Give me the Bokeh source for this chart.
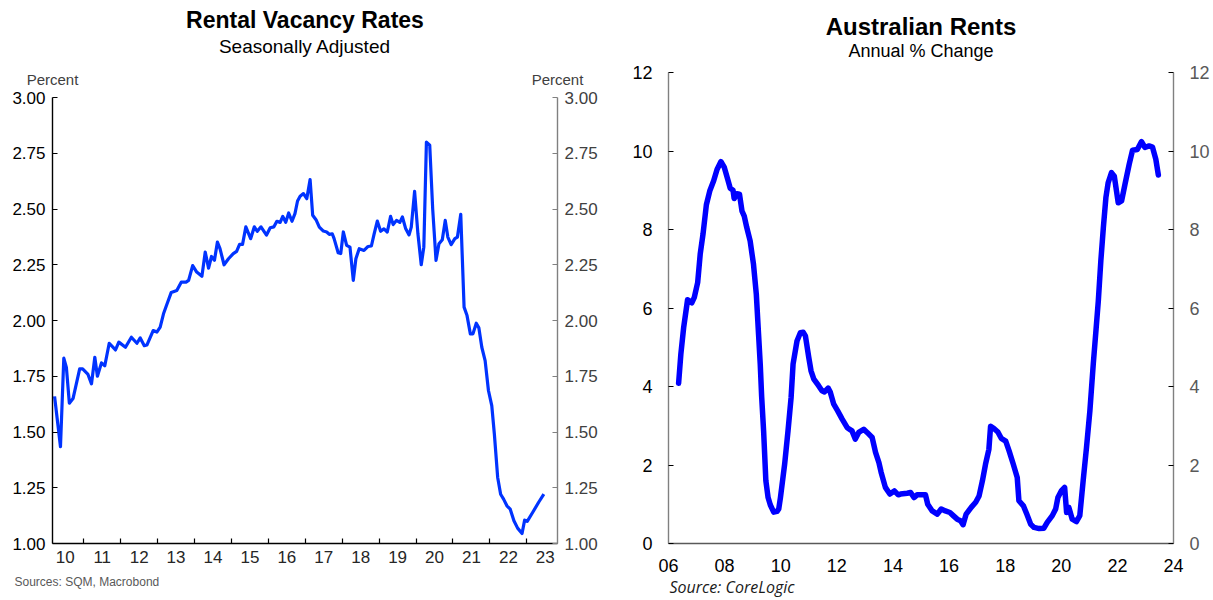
from bokeh.plotting import figure
from bokeh.models import (LinearAxis, FixedTicker, CustomJSTickFormatter, NumeralTickFormatter,
                          Range1d, ColumnDataSource, Title)
from bokeh.embed import file_html
from bokeh.resources import INLINE

FONT = "Liberation Sans"

# ---------------- Data: Rental vacancy rates (SQM, seasonally adjusted) ----------------
vac_t = [2010.21, 2010.37, 2010.46, 2010.53, 2010.61, 2010.71, 2010.89, 2010.97, 2011.11, 2011.21,
         2011.30, 2011.37, 2011.48, 2011.57, 2011.69, 2011.86, 2011.95, 2012.13, 2012.29, 2012.44,
         2012.53, 2012.64, 2012.71, 2012.88, 2012.98, 2013.07, 2013.16, 2013.25, 2013.37, 2013.52,
         2013.64, 2013.77, 2013.84, 2013.95, 2014.06, 2014.20, 2014.29, 2014.38, 2014.46, 2014.54,
         2014.62, 2014.69, 2014.80, 2014.92, 2015.05, 2015.14, 2015.22, 2015.30, 2015.39, 2015.52,
         2015.62, 2015.70, 2015.80, 2015.95, 2016.05, 2016.15, 2016.23, 2016.32, 2016.39, 2016.47,
         2016.55, 2016.64, 2016.72, 2016.79, 2016.86, 2016.95, 2017.04, 2017.13, 2017.20, 2017.29,
         2017.38, 2017.49, 2017.58, 2017.65, 2017.73, 2017.78, 2017.89, 2017.96, 2018.03, 2018.12,
         2018.21, 2018.30, 2018.37, 2018.46, 2018.59, 2018.70, 2018.79, 2018.86, 2018.95, 2019.04,
         2019.13, 2019.22, 2019.31, 2019.38, 2019.47, 2019.56, 2019.63, 2019.72, 2019.81, 2019.87,
         2019.96, 2020.05, 2020.14, 2020.21, 2020.28, 2020.37, 2020.45, 2020.54, 2020.62, 2020.71,
         2020.79, 2020.86, 2020.95, 2021.05, 2021.12, 2021.21, 2021.30, 2021.38, 2021.47, 2021.54,
         2021.63, 2021.70, 2021.78, 2021.87, 2021.96, 2022.05, 2022.12, 2022.21, 2022.29, 2022.37,
         2022.46, 2022.55, 2022.65, 2022.75, 2022.87, 2022.94, 2023.01, 2023.16, 2023.32, 2023.46]
vac_v = [1.66, 1.434, 1.831, 1.79, 1.629, 1.65, 1.783, 1.783, 1.76, 1.716,
         1.835, 1.75, 1.81, 1.797, 1.898, 1.868, 1.903, 1.88, 1.925, 1.898,
         1.922, 1.887, 1.89, 1.955, 1.948, 1.97, 2.03, 2.072, 2.126, 2.135,
         2.172, 2.172, 2.18, 2.246, 2.217, 2.198, 2.307, 2.235, 2.287, 2.27,
         2.352, 2.322, 2.25, 2.277, 2.30, 2.31, 2.341, 2.341, 2.42, 2.367,
         2.42, 2.40, 2.42, 2.383, 2.416, 2.42, 2.445, 2.44, 2.467, 2.44,
         2.482, 2.445, 2.479, 2.536, 2.557, 2.569, 2.546, 2.632, 2.472, 2.452,
         2.419, 2.401, 2.397, 2.386, 2.389, 2.367, 2.304, 2.30, 2.397, 2.337,
         2.329, 2.18, 2.277, 2.322, 2.314, 2.332, 2.334, 2.385, 2.446, 2.40,
         2.411, 2.397, 2.467, 2.43, 2.449, 2.44, 2.464, 2.411, 2.384, 2.419,
         2.579, 2.389, 2.25, 2.329, 2.80, 2.786, 2.50, 2.27, 2.344, 2.362,
         2.449, 2.374, 2.34, 2.367, 2.374, 2.476, 2.06, 2.022, 1.94, 1.94,
         1.988, 1.967, 1.88, 1.82, 1.686, 1.618, 1.491, 1.296, 1.221, 1.199,
         1.169, 1.154, 1.102, 1.069, 1.045, 1.105, 1.099, 1.14, 1.185, 1.221]
vac_y_ticks = [1.00, 1.25, 1.50, 1.75, 2.00, 2.25, 2.50, 2.75, 3.00]
vac_years = list(range(2010, 2024))
vac_year_labels = ["10", "11", "12", "13", "14", "15", "16", "17", "18", "19", "20", "21", "22", "23"]
vac_unit_labels = ["Percent", "Percent"]

# ---------------- Data: Australian rents, annual % change (CoreLogic) ----------------
rent_t = [2006.36, 2006.44, 2006.54, 2006.68, 2006.83, 2006.92, 2007.04, 2007.13, 2007.23, 2007.35,
          2007.47, 2007.61, 2007.73, 2007.87, 2007.99, 2008.11, 2008.20, 2008.30, 2008.34, 2008.44,
          2008.53, 2008.62, 2008.70, 2008.79, 2008.91, 2009.03, 2009.13, 2009.21, 2009.27, 2009.32,
          2009.39, 2009.47, 2009.55, 2009.63, 2009.75, 2009.87, 2009.93, 2009.99, 2010.14, 2010.26,
          2010.37, 2010.44, 2010.58, 2010.70, 2010.80, 2010.88, 2011.00, 2011.08, 2011.18, 2011.35,
          2011.47, 2011.56, 2011.69, 2011.77, 2011.89, 2012.03, 2012.19, 2012.37, 2012.54, 2012.66,
          2012.78, 2012.96, 2013.08, 2013.26, 2013.38, 2013.50, 2013.58, 2013.73, 2013.89, 2014.05,
          2014.19, 2014.27, 2014.51, 2014.63, 2014.75, 2014.86, 2014.98, 2015.16, 2015.24, 2015.40,
          2015.58, 2015.72, 2015.87, 2016.03, 2016.15, 2016.29, 2016.41, 2016.50, 2016.61, 2016.79,
          2016.95, 2017.07, 2017.19, 2017.30, 2017.42, 2017.48, 2017.60, 2017.74, 2017.86, 2018.02,
          2018.14, 2018.29, 2018.43, 2018.49, 2018.65, 2018.77, 2018.91, 2019.03, 2019.21, 2019.38,
          2019.50, 2019.68, 2019.80, 2019.88, 2020.00, 2020.12, 2020.19, 2020.27, 2020.39, 2020.54,
          2020.66, 2020.78, 2020.90, 2021.02, 2021.14, 2021.24, 2021.32, 2021.41, 2021.50, 2021.59,
          2021.67, 2021.79, 2021.89, 2022.03, 2022.15, 2022.27, 2022.42, 2022.54, 2022.71, 2022.86,
          2022.98, 2023.13, 2023.25, 2023.37, 2023.46]
rent_v = [4.08, 4.82, 5.50, 6.21, 6.13, 6.27, 6.65, 7.37, 7.88, 8.63,
          8.98, 9.24, 9.53, 9.73, 9.58, 9.28, 9.05, 9.00, 8.79, 8.91,
          8.90, 8.47, 8.34, 8.05, 7.71, 7.11, 6.35, 5.33, 4.57, 3.75,
          2.87, 1.60, 1.17, 0.98, 0.80, 0.82, 0.88, 1.17, 2.02, 2.87,
          3.72, 4.57, 5.16, 5.37, 5.38, 5.29, 4.74, 4.40, 4.19, 4.02,
          3.89, 3.86, 3.96, 3.85, 3.55, 3.38, 3.17, 2.95, 2.87, 2.66,
          2.83, 2.91, 2.83, 2.70, 2.32, 2.06, 1.81, 1.43, 1.26, 1.34,
          1.24, 1.26, 1.28, 1.30, 1.17, 1.24, 1.24, 1.24, 1.00, 0.83,
          0.75, 0.88, 0.83, 0.79, 0.71, 0.62, 0.58, 0.48, 0.75, 0.92,
          1.05, 1.21, 1.60, 2.02, 2.40, 2.99, 2.93, 2.84, 2.68, 2.61,
          2.36, 2.02, 1.68, 1.09, 0.96, 0.75, 0.49, 0.41, 0.38, 0.39,
          0.54, 0.71, 0.88, 1.17, 1.34, 1.43, 0.79, 0.92, 0.62, 0.56,
          0.71, 1.60, 2.45, 3.38, 4.57, 5.46, 6.18, 7.20, 8.05, 8.81,
          9.19, 9.45, 9.36, 8.68, 8.73, 9.15, 9.66, 10.02, 10.04, 10.24,
          10.09, 10.13, 10.10, 9.79, 9.39]
rent_y_ticks = [0, 2, 4, 6, 8, 10, 12]
rent_years = [2006, 2008, 2010, 2012, 2014, 2016, 2018, 2020, 2022, 2024]
rent_year_labels = ["06", "08", "10", "12", "14", "16", "18", "20", "22", "24"]

year_fmt_code = """
const i = years.indexOf(Math.floor(tick + 0.001));
return i >= 0 ? labels[i] : '';
"""


def style_axis(ax, line_color, label_color, size, standoff, tick_in, tick_color=None):
    ax.axis_line_color = line_color
    ax.axis_line_width = 1.4
    ax.major_tick_line_color = tick_color if tick_color is not None else line_color
    ax.major_tick_line_width = 1.2
    ax.major_tick_in = tick_in
    ax.major_tick_out = 0
    ax.minor_tick_line_color = None
    ax.major_label_text_font = FONT
    ax.major_label_text_font_size = size
    ax.major_label_text_color = label_color
    ax.major_label_standoff = standoff


def base_fig(width, height, **kw):
    p = figure(width=width, height=height, output_backend="svg", toolbar_location=None,
               x_axis_location=None, y_axis_location=None, **kw)
    p.outline_line_color = None
    p.grid.visible = False
    p.background_fill_color = "white"
    p.border_fill_color = "white"
    return p


def add_title(p, text, size, place, style="normal", standoff=0, offset=0, align="center",
              color="black", font=FONT):
    p.add_layout(Title(text=text, align=align, offset=offset, standoff=standoff,
                       text_font=font, text_font_size=size, text_font_style=style,
                       text_color=color), place)


# ---------------- Left chart ----------------
x0, x1 = 2010.154, 2023.83
p1 = base_fig(600, 600, x_range=Range1d(x0, x1), y_range=Range1d(1.0, 3.0),
              min_border_left=52, min_border_right=42, min_border_top=97, min_border_bottom=57)

yl = LinearAxis(ticker=FixedTicker(ticks=vac_y_ticks), formatter=NumeralTickFormatter(format="0.00"))
style_axis(yl, "black", "black", "17px", 7, 5)
p1.add_layout(yl, "left")
yr = LinearAxis(ticker=FixedTicker(ticks=vac_y_ticks), formatter=NumeralTickFormatter(format="0.00"))
style_axis(yr, "#808080", "#404040", "17px", 7, 5)
p1.add_layout(yr, "right")
xb = LinearAxis(ticker=FixedTicker(ticks=[y + 0.5 for y in vac_years], minor_ticks=vac_years[1:]),
                formatter=CustomJSTickFormatter(args=dict(years=vac_years, labels=vac_year_labels),
                                                code=year_fmt_code))
style_axis(xb, "black", "#262626", "17px", 7, 0)
xb.major_tick_line_color = None
xb.minor_tick_line_color = "black"
xb.minor_tick_line_width = 1.2
xb.minor_tick_in = 5
xb.minor_tick_out = 0
p1.add_layout(xb, "below")

# "Percent" unit labels centred over both value axes
xa = LinearAxis(ticker=FixedTicker(ticks=[x0, x1]),
                formatter=CustomJSTickFormatter(args=dict(labels=vac_unit_labels, lo=x0),
                                                code="return tick <= lo + 0.5 ? labels[0] : labels[1];"))
style_axis(xa, None, "#404040", "15px", 10, 0)
xa.major_tick_line_color = None
p1.add_layout(xa, "above")

add_title(p1, "Seasonally Adjusted", "19px", "above", standoff=22)
add_title(p1, "Rental Vacancy Rates", "23px", "above", style="bold", standoff=-21)
add_title(p1, "Sources: SQM, Macrobond", "12px", "below", align="left", offset=-38,
          standoff=15, color="#595959")

src1 = ColumnDataSource(dict(t=vac_t, v=vac_v))
p1.line("t", "v", source=src1, line_color="#0033ff", line_width=3.2, line_join="round")

# ---------------- Right chart ----------------
p2 = base_fig(613, 600, x_range=Range1d(2006, 2024), y_range=Range1d(0, 12),
              min_border_left=68, min_border_right=40, min_border_top=72, min_border_bottom=57)
# placed beside the left chart as its own root (keeps its own frame position)
p2.styles = {"position": "absolute", "left": "600px", "top": "0px"}

y2l = LinearAxis(ticker=FixedTicker(ticks=rent_y_ticks), formatter=NumeralTickFormatter(format="0"))
style_axis(y2l, "#808080", "black", "18px", 16, 5, tick_color="black")
p2.add_layout(y2l, "left")
y2r = LinearAxis(ticker=FixedTicker(ticks=rent_y_ticks), formatter=NumeralTickFormatter(format="0"))
style_axis(y2r, "#808080", "#595959", "18px", 16, 5, tick_color="black")
p2.add_layout(y2r, "right")
x2b = LinearAxis(ticker=FixedTicker(ticks=rent_years),
                 formatter=CustomJSTickFormatter(args=dict(years=rent_years, labels=rent_year_labels),
                                                 code=year_fmt_code))
style_axis(x2b, "#595959", "black", "18px", 15, 0)
x2b.major_tick_line_color = None
p2.add_layout(x2b, "below")

add_title(p2, "Annual % Change", "18px", "above", offset=-4, standoff=23)
add_title(p2, "Australian Rents", "24px", "above", style="bold", offset=-4, standoff=-24)
add_title(p2, "Source: CoreLogic", "16px", "below", align="left", offset=1, standoff=-2,
          style="italic", color="#1a1a1a", font="Open Sans")

src2 = ColumnDataSource(dict(t=rent_t, v=rent_v))
p2.line("t", "v", source=src2, line_color="#0000ff", line_width=5.5, line_join="round", line_cap="round")

open("out.html", "w").write(file_html([p1, p2], INLINE))
